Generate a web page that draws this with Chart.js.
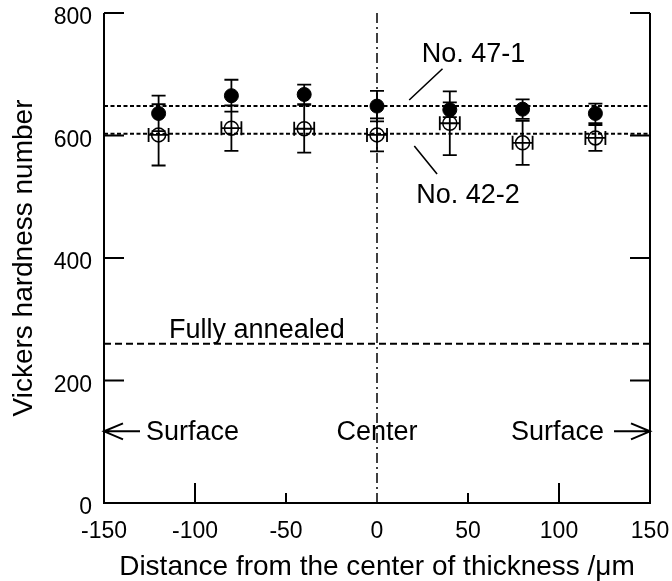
<!DOCTYPE html>
<html>
<head>
<meta charset="utf-8">
<script src="https://cdn.jsdelivr.net/npm/chart.js@4/dist/chart.umd.min.js"></script>
<style>html,body{margin:0;padding:0;background:#fff}</style>
</head>
<body>
<canvas id="c" width="672" height="581"></canvas>
<script>
// measurement positions (µm from center of thickness)
const positions = [-120, -80, -40, 0, 40, 80, 120];
// No. 47-1 (filled circles)
const hv47 = [636, 665, 667, 648, 642, 643, 636];
const err47 = [29, 26, 16, 25, 12, 16, 16];
// No. 42-2 (open circles)
const hv42 = [601, 612, 611, 601, 620, 588, 596];
const err42 = [50, 37, 39, 27, 52, 36, 21];
const xerr42 = [5.5, 5.5, 5.5, 5.5, 5.5, 5.5, 5.5];
// horizontal reference levels
const level47 = 648;
const level42 = 603;
const annealed = 260;

const FONT = "'Liberation Sans', Arial, Helvetica, sans-serif";

const toXY = (xs, ys) => xs.map((x, i) => ({x: x, y: ys[i]}));

// frame, inner ticks, error bars and annotations
const extras = {
  id: 'extras',
  beforeDatasetsDraw(chart) {
    const {ctx, chartArea: a, scales: {x, y}} = chart;
    ctx.save();
    ctx.strokeStyle = '#000';
    ctx.lineWidth = 2;
    ctx.setLineDash([]);
    ctx.beginPath();
    // left, bottom, right (no top line)
    ctx.moveTo(a.left, a.top); ctx.lineTo(a.left, a.bottom);
    ctx.lineTo(a.right, a.bottom); ctx.lineTo(a.right, a.top);
    // y ticks inward on both sides
    [200, 400, 600, 800].forEach(v => {
      const py = y.getPixelForValue(v);
      ctx.moveTo(a.left, py); ctx.lineTo(a.left + 20, py);
      ctx.moveTo(a.right, py); ctx.lineTo(a.right - 20, py);
    });
    // x ticks inward from bottom
    [-100, 100].forEach(v => {
      const px = x.getPixelForValue(v);
      ctx.moveTo(px, a.bottom); ctx.lineTo(px, a.bottom - 20);
    });
    [-50, 50].forEach(v => {
      const px = x.getPixelForValue(v);
      ctx.moveTo(px, a.bottom); ctx.lineTo(px, a.bottom - 10);
    });
    ctx.stroke();
    ctx.restore();
  },
  afterDatasetsDraw(chart) {
    const {ctx, scales: {x, y}} = chart;
    ctx.save();
    ctx.strokeStyle = '#000';
    ctx.lineWidth = 1.8;
    ctx.setLineDash([]);
    const cap = 7;
    ctx.beginPath();
    positions.forEach((p, i) => {
      const px = x.getPixelForValue(p);
      // 47-1 vertical
      let t = y.getPixelForValue(hv47[i] + err47[i]);
      let b = y.getPixelForValue(hv47[i] - err47[i]);
      ctx.moveTo(px, t); ctx.lineTo(px, b);
      ctx.moveTo(px - cap, t); ctx.lineTo(px + cap, t);
      ctx.moveTo(px - cap, b); ctx.lineTo(px + cap, b);
      // 42-2 vertical
      t = y.getPixelForValue(hv42[i] + err42[i]);
      b = y.getPixelForValue(hv42[i] - err42[i]);
      ctx.moveTo(px, t); ctx.lineTo(px, b);
      ctx.moveTo(px - cap, t); ctx.lineTo(px + cap, t);
      ctx.moveTo(px - cap, b); ctx.lineTo(px + cap, b);
      // 42-2 horizontal
      const py = y.getPixelForValue(hv42[i]);
      const l = x.getPixelForValue(p - xerr42[i]);
      const r = x.getPixelForValue(p + xerr42[i]);
      ctx.moveTo(l, py); ctx.lineTo(r, py);
      ctx.moveTo(l, py - cap); ctx.lineTo(l, py + cap);
      ctx.moveTo(r, py - cap); ctx.lineTo(r, py + cap);
    });
    ctx.stroke();

    // annotations
    ctx.fillStyle = '#000';
    ctx.font = '27px ' + FONT;
    ctx.textBaseline = 'alphabetic';
    const X = v => x.getPixelForValue(v), Y = v => y.getPixelForValue(v);
    ctx.textAlign = 'center';
    ctx.fillText('No. 47-1', X(53), Y(720));
    ctx.fillText('No. 42-2', X(50), Y(490));
    ctx.fillText('Fully annealed', X(-66), Y(270));
    ctx.fillText('Center', X(0), Y(103));
    ctx.textAlign = 'left';
    ctx.fillText('Surface', X(-150) + 42, Y(103));
    ctx.textAlign = 'right';
    ctx.fillText('Surface', X(150) - 46, Y(103));

    ctx.lineWidth = 1.6;
    ctx.beginPath();
    // leader lines
    ctx.moveTo(X(36), Y(709)); ctx.lineTo(X(17.7), Y(658));
    ctx.moveTo(X(20.5), Y(583)); ctx.lineTo(X(33), Y(537));
    ctx.stroke();

    // surface arrows
    ctx.lineWidth = 2;
    const ay = Y(117);
    ctx.beginPath();
    let tip = X(-150);
    ctx.moveTo(tip, ay); ctx.lineTo(tip + 36, ay);
    ctx.moveTo(tip + 19, ay - 8); ctx.lineTo(tip, ay); ctx.lineTo(tip + 19, ay + 8);
    tip = X(150);
    ctx.moveTo(tip, ay); ctx.lineTo(tip - 36, ay);
    ctx.moveTo(tip - 19, ay - 8); ctx.lineTo(tip, ay); ctx.lineTo(tip - 19, ay + 8);
    ctx.stroke();
    ctx.restore();
  }
};

new Chart(document.getElementById('c'), {
  type: 'scatter',
  data: {
    datasets: [{
      label: 'center',
      type: 'line',
      data: [{x: 0, y: 0}, {x: 0, y: 800}],
      borderColor: '#000',
      borderWidth: 1.5,
      borderDash: [10, 4, 2, 4],
      pointRadius: 0
    }, {
      label: 'No. 47-1 level',
      type: 'line',
      data: [{x: -150, y: level47}, {x: 150, y: level47}],
      borderColor: '#000',
      borderWidth: 2,
      borderDash: [4, 2.5],
      pointRadius: 0
    }, {
      label: 'No. 42-2 level',
      type: 'line',
      data: [{x: -150, y: level42}, {x: 150, y: level42}],
      borderColor: '#000',
      borderWidth: 2,
      borderDash: [4, 2.5],
      pointRadius: 0
    }, {
      label: 'Fully annealed',
      type: 'line',
      data: [{x: -150, y: annealed}, {x: 150, y: annealed}],
      borderColor: '#000',
      borderWidth: 2,
      borderDash: [7, 4],
      pointRadius: 0
    }, {
      label: 'No. 42-2',
      data: toXY(positions, hv42),
      pointStyle: 'circle',
      pointRadius: 7,
      backgroundColor: 'rgba(255,255,255,0)',
      borderColor: '#000',
      borderWidth: 1.5
    }, {
      label: 'No. 47-1',
      data: toXY(positions, hv47),
      pointStyle: 'circle',
      pointRadius: 7,
      backgroundColor: '#000',
      borderColor: '#000',
      borderWidth: 1
    }]
  },
  options: {
    responsive: false,
    animation: false,
    events: [],
    layout: {padding: {top: 13, right: 22, left: 0, bottom: 0}},
    plugins: {legend: {display: false}, tooltip: {enabled: false}},
    scales: {
      x: {
        type: 'linear',
        min: -150, max: 150,
        grid: {display: false, drawTicks: false},
        border: {display: false},
        ticks: {stepSize: 50, color: '#000', padding: 15, font: {family: FONT, size: 23}},
        title: {display: true, text: 'Distance from the center of thickness /\u03bcm', color: '#000',
                font: {family: FONT, size: 28, lineHeight: 1.0}, padding: {top: 0, bottom: 0}},
        afterFit(s) { s.height = 78; s.paddingLeft = 0; s.paddingRight = 0; }
      },
      y: {
        min: 0, max: 800,
        grid: {display: false, drawTicks: false},
        border: {display: false},
        ticks: {stepSize: 200, color: '#000', padding: 12, labelOffset: 5, font: {family: FONT, size: 23}},
        title: {display: true, text: 'Vickers hardness number', color: '#000',
                font: {family: FONT, size: 28, lineHeight: 1.1}, padding: {top: 9, bottom: 0}},
        afterFit(s) { s.width = 104; s.paddingTop = 0; s.paddingBottom = 0; }
      }
    }
  },
  plugins: [extras]
});
</script>
</body>
</html>
